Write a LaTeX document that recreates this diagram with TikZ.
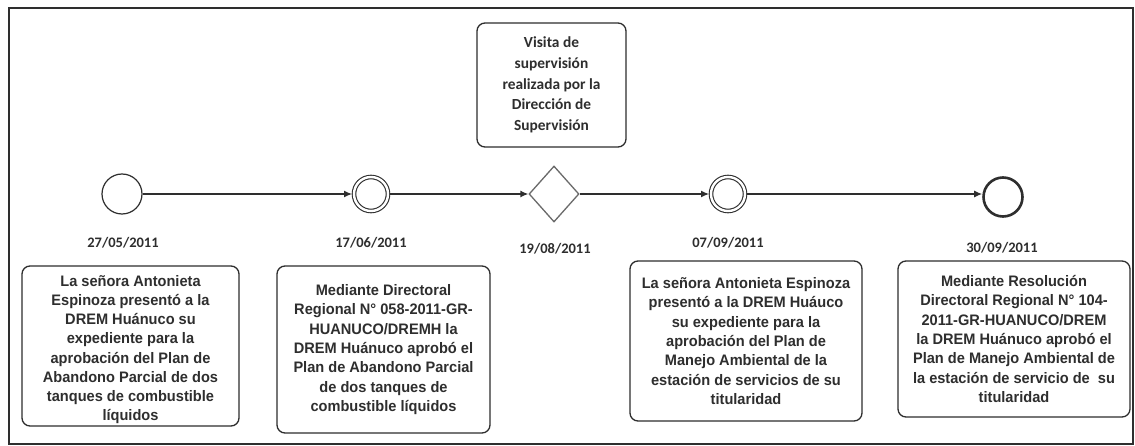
\documentclass[tikz,border=0pt]{standalone}
\usepackage{fontspec}
\usetikzlibrary{shapes.geometric,arrows.meta}
\newfontfamily\boxfont{Liberation Sans}[FakeStretch=0.96]
\newfontfamily\calfont{Carlito}
\definecolor{ink}{HTML}{2E2E2E}
\definecolor{dink}{HTML}{6A6A6A}
\begin{document}
\begin{tikzpicture}[x=1pt,y=-1pt,
  frame/.style={draw=ink,line width=2pt},
  boxline/.style={draw=ink,line width=1.3pt,rounded corners=8pt,inner sep=0pt},
  evbox/.style={boxline,align=center,
    font=\boxfont\bfseries\fontsize{15.2}{19.4}\selectfont,text=ink},
  evtext/.style={inner sep=0pt,align=center,
    font=\boxfont\bfseries\fontsize{15.2}{19.2}\selectfont,text=ink},
  topbox/.style={boxline,align=center,
    font=\calfont\bfseries\fontsize{15.4}{20.6}\selectfont,text=ink},
  datelbl/.style={font=\calfont\bfseries\fontsize{14.5}{16}\selectfont,text=ink,inner sep=0pt},
  startev/.style={circle,draw=ink,line width=1.2pt,minimum size=40pt,inner sep=0pt},
  midev/.style={circle,draw=ink,line width=1.1pt,double,double distance=2.4pt,minimum size=34pt,inner sep=0pt,outer sep=2pt},
  endev/.style={circle,draw=ink,line width=2.6pt,minimum size=39pt,inner sep=0pt},
  gate/.style={diamond,draw=dink,line width=1.3pt,minimum width=50pt,minimum height=56pt,inner sep=0pt,aspect=0.9},
  flow/.style={draw=ink,line width=1.3pt,-{Latex[length=8pt,width=7pt]}}]
\useasboundingbox (0,0) rectangle (1135,446);
\fill[white] (0,0) rectangle (1135,446);
\draw[frame] (9,8) rectangle (1133,444);

\node[startev] (e1) at (122,194) {};
\node[midev] (e2) at (371,194) {};
\node[gate] (g) at (554,194) {};
\node[midev] (e3) at (728,194) {};
\node[endev] (e4) at (1003,197) {};

\draw[flow] (e1) -- (e2);
\draw[flow] (e2) -- (g);
\draw[flow] (g) -- (e3);
\draw[flow] (e3) -- (e4.west |- e3);

\node[datelbl] (d1) at (123,243) {27/05/2011};
\node[datelbl] (d2) at (371,243) {17/06/2011};
\node[datelbl] (d3) at (555,249) {19/08/2011};
\node[datelbl] (d4) at (728,243) {07/09/2011};
\node[datelbl] (d5) at (1002,248) {30/09/2011};

\node[topbox,minimum width=149pt,minimum height=124pt] (t) at (551.5,85)
  {Visita de\\supervisión\\realizada por la\\Dirección de\\Supervisión};

\node[boxline,minimum width=217pt,minimum height=160pt] (b1) at (130.5,346) {};
\node[evtext] (b1t) at (130.5,349.5)
  {La señora Antonieta\\Espinoza presentó a la\\DREM Huánuco su\\expediente para la\\aprobación del Plan de\\Abandono Parcial de dos\\tanques de combustible\\líquidos};
\node[evbox,minimum width=213pt,minimum height=167pt] (b2) at (383.5,349.5)
  {Mediante Directoral\\Regional N° 058-2011-GR-\\HUANUCO/DREMH la\\DREM Huánuco aprobó el\\Plan de Abandono Parcial\\de dos tanques de\\combustible líquidos};
\node[evbox,minimum width=232pt,minimum height=160pt] (b3) at (746,341)
  {La señora Antonieta Espinoza\\presentó a la DREM Huáuco\\su expediente para la\\aprobación del Plan de\\Manejo Ambiental de la\\estación de servicios de su\\titularidad};
\node[evbox,minimum width=232pt,minimum height=156pt] (b4) at (1014,339)
  {Mediante Resolución\\Directoral Regional N° 104-\\2011-GR-HUANUCO/DREM\\la DREM Huánuco aprobó el\\Plan de Manejo Ambiental de\\la estación de servicio de \ su\\titularidad};
\end{tikzpicture}
\end{document}
